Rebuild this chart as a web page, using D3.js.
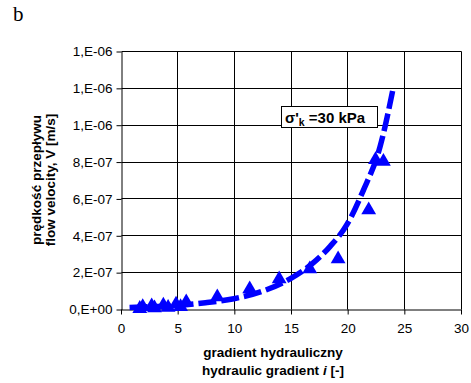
<!DOCTYPE html>
<html>
<head>
<meta charset="utf-8">
<script src="https://cdn.jsdelivr.net/npm/d3@7"></script>
<style>
  html, body { margin: 0; padding: 0; background: #fff; }
  svg { display: block; font-family: "Liberation Sans", Arial, sans-serif; }
</style>
</head>
<body>
<svg id="chart" width="471" height="383"></svg>
<script>
// ---- data ----
const pointsI = [1.7, 1.96, 2.75, 3.0, 3.78, 4.2, 4.9, 5.3, 5.8, 8.54, 11.4, 14.0, 16.7, 19.2, 21.9, 22.5, 23.2];
const pointsV = [0.2e-8, 1.25e-8, 1.6e-8, 0.5e-8, 2.0e-8, 0.8e-8, 2.55e-8, 1.2e-8, 3.8e-8, 6.5e-8, 1.08e-7, 1.63e-7, 2.17e-7, 2.71e-7, 5.37e-7, 8.1e-7, 8.0e-7];

// trend line (exponential fit in the original), read along its path
const trendI = [0.8, 2.5, 5, 7.5, 10, 12.5, 15, 17, 18.5, 20, 21.4, 22.9, 24.1];
const trendV = [8e-9, 1.2e-8, 2.0e-8, 3.4e-8, 5.6e-8, 9.6e-8, 1.65e-7, 2.5e-7, 3.4e-7, 4.6e-7, 6.4e-7, 8.8e-7, 1.21e-6];

const xTickValues = [0, 5, 10, 15, 20, 25, 30];
const xTickLabels = ["0", "5", "10", "15", "20", "25", "30"];
const yTickValues = [0, 2e-7, 4e-7, 6e-7, 8e-7, 1.0e-6, 1.2e-6, 1.4e-6];
const yTickLabels = ["0,E+00", "2,E-07", "4,E-07", "6,E-07", "8,E-07", "1,E-06", "1,E-06", "1,E-06"];

const panelLabel = "b";
const xTitle1 = "gradient hydrauliczny";
const xTitle2a = "hydraulic gradient ";
const xTitle2b = "i";
const xTitle2c = " [-]";
const yTitle1 = "prędkość przepływu";
const yTitle2 = "flow velocity, V [m/s]";

// ---- drawing ----
const svg = d3.select("#chart");
svg.append("rect").attr("width", 471).attr("height", 383).attr("fill", "#fff");

const x = d3.scaleLinear().domain([0, 30]).range([120.5, 460.5]);
const y = d3.scaleLinear().domain([0, 1.4e-6]).range([309, 51]);
const snap = v => Math.round(v) + 0.5;

// grid
const grid = svg.append("g");
grid.selectAll("line.v").data(xTickValues.slice(1)).enter().append("line")
  .attr("x1", d => snap(x(d))).attr("x2", d => snap(x(d)))
  .attr("y1", snap(y(1.4e-6))).attr("y2", snap(y(0)))
  .attr("stroke", "#000").attr("stroke-width", 1);
grid.selectAll("line.h").data(yTickValues.slice(1)).enter().append("line")
  .attr("x1", snap(x(0))).attr("x2", snap(x(30)))
  .attr("y1", d => snap(y(d))).attr("y2", d => snap(y(d)))
  .attr("stroke", "#000").attr("stroke-width", 1);

// axes
const xAxis = d3.axisBottom(x).tickValues(xTickValues)
  .tickFormat((d, i) => xTickLabels[i]).tickSize(5).tickSizeOuter(0).tickPadding(9);
const gx = svg.append("g").attr("transform", `translate(0.5,${snap(y(0))})`).call(xAxis);
gx.attr("font-family", null);
gx.select(".domain").attr("stroke", "#000");
gx.selectAll(".tick line").attr("stroke", "#000");
gx.selectAll(".tick text").attr("font-size", 13.5).attr("fill", "#000");

const yAxis = d3.axisLeft(y).tickValues(yTickValues)
  .tickFormat((d, i) => yTickLabels[i]).tickSize(5).tickSizeOuter(0).tickPadding(4);
const gy = svg.append("g").attr("transform", `translate(${snap(x(0))},0.5)`).call(yAxis);
gy.attr("font-family", null);
gy.select(".domain").attr("stroke", "#000");
gy.selectAll(".tick line").attr("stroke", "#000");
gy.selectAll(".tick text").attr("font-size", 13.5).attr("fill", "#000");

// trend line
const trend = trendI.map((d, i) => [d, trendV[i]]);
const line = d3.line().x(d => x(d[0])).y(d => y(d[1])).curve(d3.curveMonotoneX);
svg.append("path").datum(trend).attr("d", line)
  .attr("fill", "none").attr("stroke", "#0000ff").attr("stroke-width", 5.5)
  .attr("stroke-dasharray", "18,5");

// markers
const tri = d3.symbol().type(d3.symbolTriangle).size(95);
svg.selectAll("path.pt").data(pointsI.map((d, i) => [d, pointsV[i]])).enter().append("path")
  .attr("class", "pt")
  .attr("d", tri)
  .attr("transform", d => `translate(${x(d[0])},${y(d[1])})`)
  .attr("fill", "#0000ff");

// legend box
const lg = svg.append("g");
lg.append("rect").attr("x", 281.5).attr("y", 106.5).attr("width", 96).attr("height", 21)
  .attr("fill", "#fff").attr("stroke", "#000").attr("stroke-width", 1);
const lt = lg.append("text").attr("x", 285).attr("y", 122.5)
  .attr("font-size", 15).attr("font-weight", "bold").attr("fill", "#000");
lt.append("tspan").text("σ'");
lt.append("tspan").text("k").attr("font-size", 10.5).attr("dy", 3);
lt.append("tspan").text(" =30 kPa").attr("dy", -3);

// axis titles
const xt = svg.append("g").attr("font-weight", "bold").attr("font-size", 13.5).attr("fill", "#000");
xt.append("text").attr("x", 273).attr("y", 357).attr("text-anchor", "middle").text(xTitle1);
const xt2 = xt.append("text").attr("x", 273).attr("y", 375).attr("text-anchor", "middle");
xt2.append("tspan").text(xTitle2a);
xt2.append("tspan").text(xTitle2b).attr("font-style", "italic");
xt2.append("tspan").text(xTitle2c);

const yt = svg.append("g").attr("font-weight", "bold").attr("font-size", 13.5).attr("fill", "#000");
yt.append("text").attr("transform", "translate(41,180) rotate(-90)").attr("text-anchor", "middle").text(yTitle1);
yt.append("text").attr("transform", "translate(55,180) rotate(-90)").attr("text-anchor", "middle").text(yTitle2);

// panel label
svg.append("text").attr("x", 13).attr("y", 21)
  .style("font-family", "'Liberation Serif', 'Times New Roman', serif")
  .attr("font-size", 21).attr("fill", "#000").text(panelLabel);
</script>
</body>
</html>
